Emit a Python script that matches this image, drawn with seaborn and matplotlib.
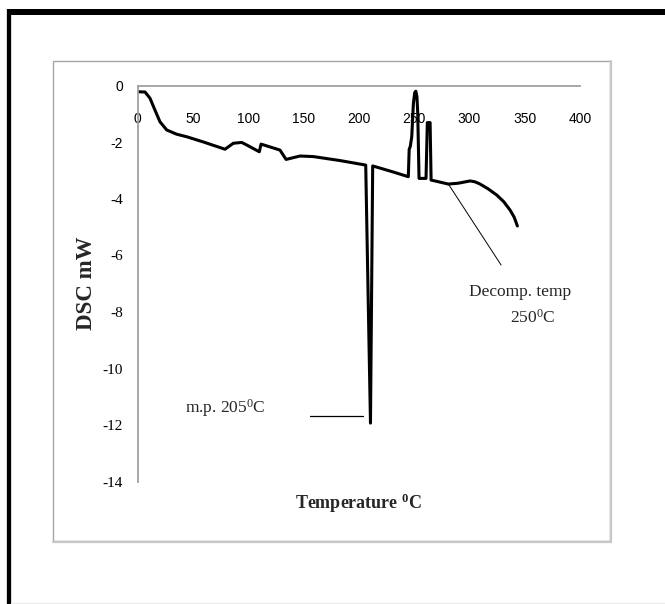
import numpy as np
import pandas as pd
import matplotlib
matplotlib.use("Agg")
import matplotlib.pyplot as plt
import seaborn as sns
from matplotlib.patches import Rectangle
from matplotlib.lines import Line2D

# ---- data ----
temperature = [0.2, 6.8, 11.3, 15.8, 20.3, 26.4, 35.4, 44.5, 60.0, 79.1, 86.6, 94.2, 98.7,
               110.1, 111.7, 128.8, 134.3, 146.9, 159.0, 183.0, 206.3, 210.6, 212.6,
               230.0, 244.8, 245.6, 246.6, 247.9, 249.4, 250.6, 251.6, 252.6, 253.3,
               254.5, 260.8, 262.0, 264.5, 265.4, 270.0, 281.0, 290.0, 300.6, 305.0,
               309.7, 317.0, 324.8, 331.0, 336.8, 340.5, 343.4]
dsc = [-0.22, -0.23, -0.45, -0.87, -1.28, -1.57, -1.72, -1.81, -2.00, -2.25, -2.04, -2.01, -2.10,
       -2.34, -2.07, -2.28, -2.61, -2.49, -2.51, -2.65, -2.81, -11.92, -2.84,
       -3.04, -3.22, -2.25, -2.15, -1.81, -0.63, -0.25, -0.20, -0.40, -0.95,
       -3.28, -3.28, -1.31, -1.31, -3.34, -3.38, -3.48, -3.45, -3.37, -3.40,
       -3.48, -3.65, -3.87, -4.10, -4.40, -4.65, -4.96]

x_ticks = [0, 50, 100, 150, 200, 250, 300, 350, 400]
y_ticks = [0, -2, -4, -6, -8, -10, -12, -14]
y_tick_labels = ["0", "-2", "-4", "-6", "-8", "-10", "-12", "-14"]

x_title = "Temperature $^{\\mathbf{0}}$C"
y_title = "DSC mW"
mp_text = "m.p. 205$^{0}$C"

# ---- style ----
sns.set_style("white")
plt.rcParams["font.family"] = ["Liberation Sans", "DejaVu Sans"]
plt.rcParams["axes.unicode_minus"] = False
plt.rcParams["mathtext.fontset"] = "custom"
plt.rcParams["mathtext.rm"] = "Liberation Serif"
plt.rcParams["mathtext.it"] = "Liberation Serif:italic"
plt.rcParams["mathtext.bf"] = "Liberation Serif:bold"

W, H = 665, 604
fig = plt.figure(figsize=(W / 100, H / 100), dpi=100)
fig.patch.set_facecolor("white")

ax = fig.add_axes([137.5 / W, 1 - 482 / H, 442.5 / W, 396.5 / H])
ax.set_facecolor("none")

df = pd.DataFrame({"Temperature": temperature, "DSC": dsc})
sns.lineplot(data=df, x="Temperature", y="DSC", ax=ax, color="black",
             linewidth=2.2, sort=False, estimator=None)

ax.set_xlim(0, 400)
ax.set_ylim(-14, 0)

for s in ["right", "bottom"]:
    ax.spines[s].set_visible(False)
for s in ["top", "left"]:
    ax.spines[s].set_color("#a0a0a0")
    ax.spines[s].set_linewidth(1.3)

ax.set_xticks(x_ticks)
ax.set_xticklabels([str(v) for v in x_ticks])
ax.xaxis.tick_top()
ax.tick_params(axis="x", length=0, pad=-29.5, labelsize=10, labelcolor="black")
ax.set_yticks(y_ticks)
ax.set_yticklabels(y_tick_labels)
ax.tick_params(axis="y", length=0, pad=10.4, labelsize=10, labelcolor="black")
for lab in ax.get_yticklabels()[2:]:
    lab.set_fontfamily("Liberation Serif")
    lab.set_fontsize(11)

ax.xaxis.set_label_position("bottom")
ax.set_xlabel(x_title, fontfamily="Liberation Serif", fontweight="bold",
              fontsize=13, labelpad=7)
ax.set_ylabel(y_title, fontfamily="Liberation Serif", fontweight="bold",
              fontsize=16.5, labelpad=4)

# annotations
ax.text(43, -11.39, mp_text, fontfamily="Liberation Serif", fontsize=12.5,
        va="center", ha="left")
ax.plot([156, 204], [-11.66, -11.66], color="black", linewidth=0.9)
ax.plot([281, 328.7], [-3.48, -6.34], color="black", linewidth=0.7)
ax.text(299.7, -7.28, "Decomp. temp", fontfamily="Liberation Serif", fontsize=12.5,
        va="center", ha="left")
ax.text(336.8, -8.21, "250$^{0}$C", fontfamily="Liberation Serif", fontsize=12.5,
        va="center", ha="left")

# inner gray frame (chart area) with slight shadow
fig.add_artist(Line2D([53 / W, 611 / W], [1 - 542.2 / H, 1 - 542.2 / H],
                      color="#c8c8c8", linewidth=1.6))
fig.add_artist(Line2D([611.2 / W, 611.2 / W], [1 - 542 / H, 1 - 61 / H],
                      color="#c8c8c8", linewidth=1.6))
fig.add_artist(Rectangle((53 / W, 1 - 541 / H), (610 - 53) / W, (541 - 61) / H,
                         fill=False, edgecolor="#a6a6a6", linewidth=1.0))

# outer black frame
fig.add_artist(Line2D([8.8 / W, 8.8 / W], [0, 1 - 9.3 / H], color="black",
                      linewidth=4.3 * 0.72, solid_capstyle="butt"))
fig.add_artist(Line2D([6.7 / W, 1.0], [1 - 12.3 / H, 1 - 12.3 / H], color="black",
                      linewidth=6 * 0.72, solid_capstyle="butt"))
fig.add_artist(Line2D([11 / W, 1.0], [1 - 602.5 / H, 1 - 602.5 / H], color="#ececec",
                      linewidth=1.0))

fig.savefig("out.png", dpi=100)
